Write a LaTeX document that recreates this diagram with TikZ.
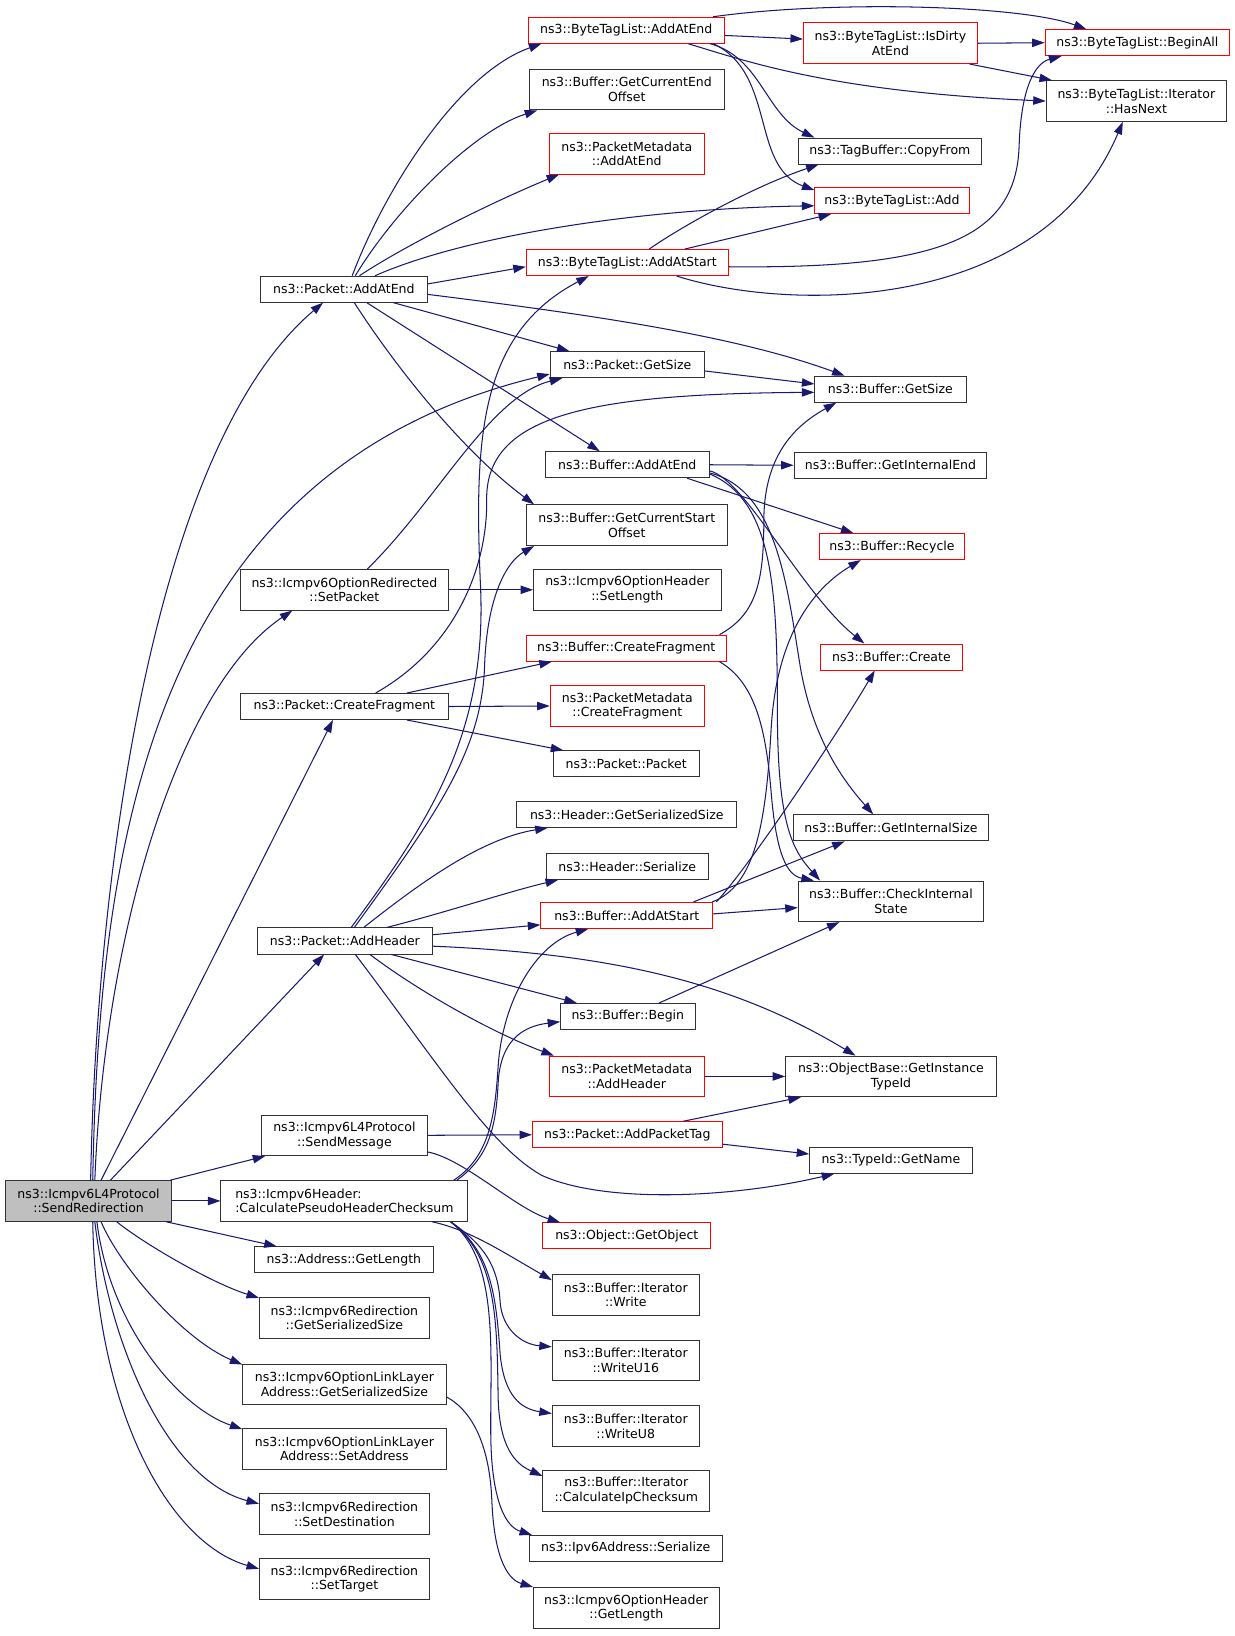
\documentclass[tikz,border=0pt]{standalone}
\usepackage{fontspec}
\setmainfont{DejaVu Sans}
\usetikzlibrary{arrows.meta}
\definecolor{callblue}{RGB}{25,25,112}
\tikzset{
  fn/.style={draw=black!80, fill=white, line width=0.9pt, inner sep=0pt,
    minimum height=25pt, align=center, font=\fontsize{12}{14}\selectfont},
  fnred/.style={fn, draw=red},
  fnroot/.style={fn, fill=black!25},
  two/.style={minimum height=39pt},
  call/.style={draw=callblue, line width=1pt, -{Triangle[length=12pt,width=8pt]}},
}

\begin{document}
\begin{tikzpicture}[x=1pt,y=-1pt]
      \useasboundingbox (0,0) rectangle (1185,1570);

      % caller
      \node[fnroot, two, minimum width=160] (sendRedir) at (85,1152.5) {ns3::Icmpv6L4Protocol\\::SendRedirection};

      % first column
      \node[fn, minimum width=160] (pktAddAtEnd) at (330,277.5) {ns3::Packet::AddAtEnd};
      \node[fn, two, minimum width=199] (setPacket) at (330.5,566) {ns3::Icmpv6OptionRedirected\\::SetPacket};
      \node[fn, minimum width=199] (pktCreateFrag) at (330.5,678) {ns3::Packet::CreateFragment};
      \node[fn, minimum width=168] (pktAddHeader) at (331,903) {ns3::Packet::AddHeader};
      \node[fn, two, minimum width=159] (sendMessage) at (330.5,1089.5) {ns3::Icmpv6L4Protocol\\::SendMessage};
      \node[fn, two, minimum width=237, align=left] (pseudoCsum) at (330.5,1152.5) {ns3::Icmpv6Header:\\:CalculatePseudoHeaderChecksum};
      \node[fn, minimum width=172] (addrGetLength) at (330,1209) {ns3::Address::GetLength};
      \node[fn, two, minimum width=163] (redirGetSize) at (330.5,1264.5) {ns3::Icmpv6Redirection\\::GetSerializedSize};
      \node[fn, two, minimum width=195] (llGetSize) at (330.5,1328.5) {ns3::Icmpv6OptionLinkLayer\\Address::GetSerializedSize};
      \node[fn, two, minimum width=195] (llSetAddress) at (330.5,1390.5) {ns3::Icmpv6OptionLinkLayer\\Address::SetAddress};
      \node[fn, two, minimum width=163] (redirSetDest) at (330.5,1453) {ns3::Icmpv6Redirection\\::SetDestination};
      \node[fn, two, minimum width=163] (redirSetTarget) at (330.5,1515.5) {ns3::Icmpv6Redirection\\::SetTarget};

      % second column
      \node[fnred, minimum width=188] (btlAddAtEnd) at (601,29) {ns3::ByteTagList::AddAtEnd};
      \node[fn, two, minimum width=187] (bufGetCurEnd) at (601.5,86) {ns3::Buffer::GetCurrentEnd\\Offset};
      \node[fnred, two, minimum width=149] (pmAddAtEnd) at (601.5,147.5) {ns3::PacketMetadata\\::AddAtEnd};
      \node[fnred, minimum width=194] (btlAddAtStart) at (602,252) {ns3::ByteTagList::AddAtStart};
      \node[fn, minimum width=148] (pktGetSize) at (602,350) {ns3::Packet::GetSize};
      \node[fn, minimum width=158] (bufAddAtEnd) at (602,446) {ns3::Buffer::AddAtEnd};
      \node[fn, two, minimum width=193] (bufGetCurStart) at (601.5,504) {ns3::Buffer::GetCurrentStart\\Offset};
      \node[fn, two, minimum width=180] (ohSetLength) at (602,566) {ns3::Icmpv6OptionHeader\\::SetLength};
      \node[fnred, minimum width=192] (bufCreateFrag) at (601,622) {ns3::Buffer::CreateFragment};
      \node[fnred, two, minimum width=148] (pmCreateFrag) at (602,677.5) {ns3::PacketMetadata\\::CreateFragment};
      \node[fn, minimum width=140] (pktPacket) at (601,733) {ns3::Packet::Packet};
      \node[fn, minimum width=211] (hdrGetSize) at (601.5,781.5) {ns3::Header::GetSerializedSize};
      \node[fn, minimum width=156] (hdrSerialize) at (602,831.5) {ns3::Header::Serialize};
      \node[fnred, minimum width=165] (bufAddAtStart) at (601.5,878.5) {ns3::Buffer::AddAtStart};
      \node[fn, minimum width=129] (bufBegin) at (602.5,975.5) {ns3::Buffer::Begin};
      \node[fnred, two, minimum width=149] (pmAddHeader) at (601.5,1033) {ns3::PacketMetadata\\::AddHeader};
      \node[fnred, minimum width=182] (addPacketTag) at (602,1089) {ns3::Packet::AddPacketTag};
      \node[fnred, minimum width=161] (getObject) at (601.5,1186) {ns3::Object::GetObject};
      \node[fn, two, minimum width=141] (itWrite) at (600.5,1242.5) {ns3::Buffer::Iterator\\::Write};
      \node[fn, two, minimum width=141] (itWriteU16) at (600.5,1305.5) {ns3::Buffer::Iterator\\::WriteU16};
      \node[fn, two, minimum width=141] (itWriteU8) at (600.5,1368.5) {ns3::Buffer::Iterator\\::WriteU8};
      \node[fn, two, minimum width=160] (itCsum) at (601,1430.5) {ns3::Buffer::Iterator\\::CalculateIpChecksum};
      \node[fn, minimum width=185] (ipv6Serialize) at (600.5,1486) {ns3::Ipv6Address::Serialize};
      \node[fn, two, minimum width=178] (ohGetLength) at (601,1543) {ns3::Icmpv6OptionHeader\\::GetLength};

      % third column
      \node[fnred, two, minimum width=167] (btlIsDirty) at (854.5,41.5) {ns3::ByteTagList::IsDirty\\AtEnd};
      \node[fn, minimum width=176] (tbCopyFrom) at (854,145) {ns3::TagBuffer::CopyFrom};
      \node[fnred, minimum width=148] (btlAdd) at (856,192.5) {ns3::ByteTagList::Add};
      \node[fn, minimum width=145] (bufGetSize) at (854.5,373.5) {ns3::Buffer::GetSize};
      \node[fn, minimum width=185] (bufGetIntEnd) at (854.5,446.5) {ns3::Buffer::GetInternalEnd};
      \node[fnred, minimum width=140] (bufRecycle) at (856,524.5) {ns3::Buffer::Recycle};
      \node[fnred, minimum width=137] (bufCreate) at (855.5,630.5) {ns3::Buffer::Create};
      \node[fn, minimum width=188] (bufGetIntSize) at (855,794.5) {ns3::Buffer::GetInternalSize};
      \node[fn, two, minimum width=178] (bufCheckState) at (855,865) {ns3::Buffer::CheckInternal\\State};
      \node[fn, two, minimum width=202] (getInstanceTid) at (855,1033) {ns3::ObjectBase::GetInstance\\TypeId};
      \node[fn, minimum width=156] (tidGetName) at (855,1113.5) {ns3::TypeId::GetName};

      % fourth column
      \node[fnred, minimum width=177] (btlBeginAll) at (1091.5,41) {ns3::ByteTagList::BeginAll};
      \node[fn, two, minimum width=173] (itHasNext) at (1090.5,97) {ns3::ByteTagList::Iterator\\::HasNext};

      % calls of SendRedirection
      \draw[call] ([xshift=2]sendRedir.north) .. controls (92,850) and (145,430) .. ([xshift=-20]pktAddAtEnd.south);
      \draw[call] ([xshift=4]sendRedir.north) .. controls (95,800) and (150,450) .. ([yshift=4]pktGetSize.south west);
      \draw[call] ([xshift=6]sendRedir.north) .. controls (100,900) and (170,660) .. ([xshift=-50]setPacket.south);
      \draw[call] ([xshift=12]sendRedir.north) -- ([xshift=-11]pktCreateFrag.south);
      \draw[call] ([xshift=21]sendRedir.north) -- ([xshift=-20]pktAddHeader.south);
      \draw[call] ([xshift=-2]sendRedir.north east) -- ([xshift=4]sendMessage.south west);
      \draw[call] (sendRedir.east) -- (pseudoCsum.west);
      \draw[call] ([xshift=-6]sendRedir.south east) -- ([xshift=22]addrGetLength.north west);
      \draw[call] ([xshift=27]sendRedir.south) .. controls (140,1195) and (205,1232) .. ([yshift=-1]redirGetSize.north west);
      \draw[call] ([xshift=12]sendRedir.south) .. controls (115,1215) and (175,1285) .. ([yshift=-1]llGetSize.north west);
      \draw[call] ([xshift=8]sendRedir.south) .. controls (105,1270) and (170,1350) .. ([yshift=-1]llSetAddress.north west);
      \draw[call] ([xshift=6]sendRedir.south) .. controls (105,1290) and (160,1420) .. ([yshift=-10]redirSetDest.north west);
      \draw[call] ([xshift=4]sendRedir.south) .. controls (92,1350) and (160,1480) .. ([yshift=-10]redirSetTarget.north west);

      % calls of Packet::AddAtEnd
      \draw[call] ([xshift=8]pktAddAtEnd.north) .. controls (370,180) and (440,70) .. ([xshift=13]btlAddAtEnd.south west);
      \draw[call] ([xshift=11]pktAddAtEnd.north) .. controls (380,200) and (455,125) .. ([xshift=8]bufGetCurEnd.south west);
      \draw[call] ([xshift=15]pktAddAtEnd.north) .. controls (390,235) and (470,195) .. ([xshift=10]pmAddAtEnd.south west);
      \draw[call] ([xshift=30]pktAddAtEnd.north) .. controls (450,225) and (620,200) .. ([yshift=-5]btlAdd.west);
      \draw[call] ([yshift=5]pktAddAtEnd.east) -- ([yshift=-4]btlAddAtStart.west);
      \draw[call] ([yshift=-5]pktAddAtEnd.east) .. controls (550,300) and (700,320) .. ([xshift=-44]bufGetSize.north);
      \draw[call] ([xshift=-33]pktAddAtEnd.south east) -- ([xshift=19]pktGetSize.north west);
      \draw[call] ([xshift=22]pktAddAtEnd.south) -- ([xshift=53]bufAddAtEnd.north west);
      \draw[call] ([xshift=10]pktAddAtEnd.south) .. controls (375,345) and (440,430) .. ([xshift=8]bufGetCurStart.north west);

      % calls of ByteTagList::AddAtEnd and IsDirtyAtEnd
      \draw[call] ([xshift=-11]btlAddAtEnd.north east) .. controls (800,0) and (980,5) .. ([xshift=40]btlBeginAll.north west);
      \draw[call] ([yshift=-5]btlAddAtEnd.east) -- ([yshift=4]btlIsDirty.west);
      \draw[call] ([xshift=-35]btlAddAtEnd.south east) .. controls (720,60) and (800,88) .. (itHasNext.west);
      \draw[call] ([xshift=-14]btlAddAtEnd.south east) .. controls (730,55) and (735,110) .. ([xshift=16]tbCopyFrom.north west);
      \draw[call] ([xshift=-11]btlAddAtEnd.south east) .. controls (745,70) and (720,160) .. ([yshift=10]btlAdd.west);
      \draw[call] (btlIsDirty.east) -- (btlBeginAll.west);
      \draw[call] ([xshift=-8]btlIsDirty.south east) -- ([xshift=6]itHasNext.north west);

      % calls of ByteTagList::AddAtStart
      \draw[call] ([xshift=21]btlAddAtStart.north) .. controls (650,220) and (720,180) .. ([xshift=20]tbCopyFrom.south west);
      \draw[call] ([xshift=55]btlAddAtStart.north) -- ([xshift=16]btlAdd.south west);
      \draw[call] ([yshift=-4]btlAddAtStart.east) .. controls (900,258) and (975,230) .. (978,140) .. controls (980,80) and (995,60) .. ([xshift=16]btlBeginAll.south west);
      \draw[call] ([xshift=-50]btlAddAtStart.south east) .. controls (760,300) and (1000,300) .. ([xshift=-13]itHasNext.south);

      % calls of GetSize, SetPacket, CreateFragment
      \draw[call] ([yshift=-6]pktGetSize.east) -- ([yshift=5]bufGetSize.west);
      \draw[call] ([xshift=22]setPacket.north) .. controls (420,480) and (470,380) .. ([xshift=12]pktGetSize.south west);
      \draw[call] (setPacket.east) -- (ohSetLength.west);
      \draw[call] ([xshift=30]pktCreateFrag.north) .. controls (440,620) and (468,540) .. (467,480) .. controls (466,400) and (560,378) .. ([yshift=-3]bufGetSize.west);
      \draw[call] ([xshift=60]pktCreateFrag.north) -- ([xshift=25]bufCreateFrag.south west);
      \draw[call] (pktCreateFrag.east) -- (pmCreateFrag.west);
      \draw[call] ([xshift=-40]pktCreateFrag.south east) -- ([xshift=10]pktPacket.north west);

      % calls of Packet::AddHeader
      \draw[call] ([xshift=9]pktAddHeader.north) .. controls (420,780) and (462,720) .. (465,640) .. controls (467,575) and (485,540) .. ([xshift=8]bufGetCurStart.south west);
      \draw[call] ([xshift=6]pktAddHeader.north) .. controls (415,785) and (468,700) .. (461,560) .. controls (455,420) and (460,320) .. ([xshift=-37]btlAddAtStart.south);
      \draw[call] ([xshift=18]pktAddHeader.north) .. controls (400,850) and (460,805) .. ([xshift=30]hdrGetSize.south west);
      \draw[call] ([xshift=40]pktAddHeader.north) .. controls (430,875) and (490,855) .. ([xshift=12]hdrSerialize.south west);
      \draw[call] ([yshift=6]pktAddHeader.east) -- ([yshift=-9]bufAddAtStart.west);
      \draw[call] ([yshift=-5]pktAddHeader.east) .. controls (580,915) and (700,940) .. ([xshift=-34]getInstanceTid.north);
      \draw[call] ([xshift=-40]pktAddHeader.south east) -- ([xshift=16]bufBegin.north west);
      \draw[call] ([xshift=24]pktAddHeader.south) .. controls (400,950) and (470,990) .. ([xshift=5]pmAddHeader.north west);
      \draw[call] ([xshift=10]pktAddHeader.south) .. controls (420,1020) and (470,1100) .. (520,1128) .. controls (580,1155) and (700,1150) .. ([xshift=24]tidGetName.south west);

      % calls of Buffer::AddAtEnd
      \draw[call] (bufAddAtEnd.east) -- (bufGetIntEnd.west);
      \draw[call] ([xshift=-22]bufAddAtEnd.south east) -- ([xshift=-37]bufRecycle.north);
      \draw[call] ([yshift=-6]bufAddAtEnd.east) .. controls (715,460) and (770,570) .. ([xshift=-26]bufCreate.north);
      \draw[call] ([yshift=-8]bufAddAtEnd.east) .. controls (745,470) and (755,560) .. (768,640) .. controls (780,710) and (810,750) .. ([xshift=-17]bufGetIntSize.north);
      \draw[call] ([yshift=-9]bufAddAtEnd.east) .. controls (740,480) and (746,560) .. (746,680) .. controls (746,790) and (760,815) .. ([xshift=-68]bufCheckState.north);

      % calls of Buffer::AddAtStart and Buffer::CreateFragment
      \draw[call] ([yshift=1.5]bufAddAtStart.east) -- ([yshift=-6]bufCheckState.west);
      \draw[call] ([xshift=-19]bufAddAtStart.north east) -- ([xshift=50]bufGetIntSize.south west);
      \draw[call] ([xshift=-1]bufAddAtStart.north east) .. controls (725,850) and (735,790) .. (740,700) .. controls (745,610) and (780,565) .. ([xshift=-30]bufRecycle.south);
      \draw[call] ([xshift=3]bufAddAtStart.north east) .. controls (720,830) and (800,710) .. ([xshift=-16]bufCreate.south);
      \draw[call] ([xshift=-7]bufCreateFrag.north east) .. controls (725,590) and (733,560) .. (733,500) .. controls (733,440) and (760,410) .. ([xshift=-52]bufGetSize.south);
      \draw[call] ([xshift=-7]bufCreateFrag.south east) .. controls (725,655) and (735,700) .. (740,760) .. controls (745,820) and (755,840) .. ([xshift=-74]bufCheckState.north);
      \draw[call] ([xshift=-35]bufBegin.north east) -- ([xshift=40]bufCheckState.south west);
      \draw[call] (pmAddHeader.east) -- (getInstanceTid.west);
      \draw[call] ([xshift=-38]addPacketTag.north east) -- ([xshift=15]getInstanceTid.south west);
      \draw[call] ([yshift=-9]addPacketTag.east) -- ([yshift=6]tidGetName.west);

      % calls of SendMessage
      \draw[call] (sendMessage.east) -- (addPacketTag.west);
      \draw[call] ([yshift=-16]sendMessage.east) .. controls (445,1112) and (495,1160) .. ([xshift=17]getObject.north west);

      % calls of CalculatePseudoHeaderChecksum
      \draw[call] ([xshift=-14]pseudoCsum.north east) .. controls (470,1110) and (475,1070) .. (478,1024) .. controls (482,960) and (515,905) .. ([xshift=-37]bufAddAtStart.south);
      \draw[call] ([xshift=-11]pseudoCsum.north east) .. controls (470,1110) and (476,1080) .. (478,1040) .. controls (480,1000) and (500,985) .. ([yshift=-5]bufBegin.west);
      \draw[call] ([xshift=-35]pseudoCsum.south east) .. controls (450,1180) and (480,1200) .. ([yshift=14]itWrite.west);
      \draw[call] ([xshift=-17]pseudoCsum.south east) .. controls (465,1195) and (478,1215) .. (480,1250) .. controls (482,1275) and (500,1290) .. ([yshift=13]itWriteU16.west);
      \draw[call] ([xshift=-17]pseudoCsum.south east) .. controls (470,1200) and (476,1240) .. (480,1300) .. controls (484,1340) and (500,1352) .. ([yshift=12]itWriteU8.west);
      \draw[call] ([xshift=-17]pseudoCsum.south east) .. controls (475,1205) and (477,1260) .. (478,1340) .. controls (479,1390) and (495,1405) .. ([yshift=14]itCsum.west);
      \draw[call] ([xshift=-17]pseudoCsum.south east) .. controls (480,1210) and (470,1300) .. (471,1380) .. controls (472,1440) and (485,1465) .. ([xshift=3]ipv6Serialize.north west);

      % calls of LinkLayerAddress::GetSerializedSize
      \draw[call] ([yshift=-12]llGetSize.east) .. controls (455,1355) and (470,1390) .. (472,1440) .. controls (474,1490) and (485,1515) .. (ohGetLength.north west);
    \end{tikzpicture}
\end{document}
